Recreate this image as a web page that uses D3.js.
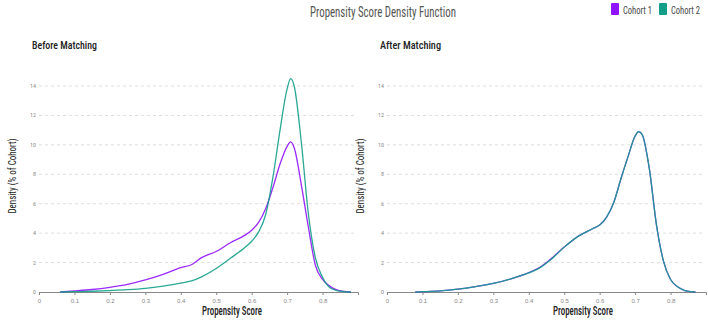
<!DOCTYPE html>
<html>
<head>
<meta charset="utf-8">
<script src="https://cdn.jsdelivr.net/npm/d3@7"></script>
<style>
  body { margin: 0; background: #fff; }
  svg { font-family: "Roboto Condensed", "Liberation Sans Narrow", "DejaVu Sans Condensed", Roboto, sans-serif; }
  .tick text { fill: #888; font-size: 6px; }
  .grid line { stroke: #ddd; stroke-dasharray: 3,3; }
</style>
</head>
<body>
<svg id="chart" width="708" height="320"></svg>
<script>
var cohorts = ["Cohort 1", "Cohort 2"];
var colors = ["#9013fe", "#139e8a"];

// propensity score grid + density values (% of cohort)
var beforeScores = [0.06, 0.1, 0.15, 0.2, 0.25, 0.3, 0.35, 0.4, 0.43, 0.46, 0.5, 0.54, 0.58, 0.6, 0.62, 0.64, 0.66, 0.68, 0.7, 0.71, 0.72, 0.74, 0.76, 0.78, 0.8, 0.82, 0.84, 0.86, 0.88];
var beforeCohort1 = [0, 0.07, 0.17, 0.32, 0.52, 0.82, 1.2, 1.65, 1.85, 2.35, 2.75, 3.35, 3.85, 4.2, 4.75, 5.7, 7.1, 8.7, 9.9, 10.2, 9.8, 7.3, 4.4, 1.8, 0.85, 0.4, 0.15, 0.04, 0];
var beforeCohort2 = [0, 0.02, 0.05, 0.1, 0.16, 0.25, 0.4, 0.6, 0.75, 1.05, 1.6, 2.3, 3.0, 3.45, 4.1, 5.3, 7.8, 11.0, 13.8, 14.5, 14.0, 10.2, 5.3, 2.3, 1.0, 0.3, 0.1, 0.03, 0];

var afterScores = [0.08, 0.1, 0.15, 0.2, 0.25, 0.3, 0.35, 0.4, 0.43, 0.46, 0.5, 0.54, 0.58, 0.6, 0.62, 0.64, 0.66, 0.68, 0.7, 0.71, 0.72, 0.74, 0.76, 0.78, 0.8, 0.82, 0.84, 0.86, 0.87];
var afterCohort1 = [0, 0.02, 0.08, 0.2, 0.37, 0.58, 0.9, 1.32, 1.66, 2.2, 3.05, 3.8, 4.3, 4.55, 5.1, 6.1, 7.7, 9.2, 10.6, 10.9, 10.7, 8.4, 4.6, 2.1, 0.85, 0.35, 0.1, 0.02, 0];
var afterCohort2 = [0, 0.02, 0.08, 0.2, 0.37, 0.58, 0.9, 1.3, 1.62, 2.15, 3.05, 3.8, 4.3, 4.55, 5.1, 6.1, 7.7, 9.2, 10.6, 10.9, 10.7, 8.4, 4.6, 2.1, 0.85, 0.35, 0.1, 0.02, 0];

var xTicks = [0, 0.1, 0.2, 0.3, 0.4, 0.5, 0.6, 0.7, 0.8];
var yTicks = [0, 2, 4, 6, 8, 10, 12, 14];

const svg = d3.select("#chart");

// title
svg.append("text")
    .attr("x", 383).attr("y", 17)
    .attr("text-anchor", "middle")
    .attr("textLength", 146)
    .attr("lengthAdjust", "spacingAndGlyphs")
    .style("font-size", "15px")
    .style("fill", "#555")
    .text("Propensity Score Density Function");

// legend
var legendX = [611, 659];
cohorts.forEach(function (c, i) {
    svg.append("rect")
        .attr("x", legendX[i]).attr("y", 3)
        .attr("width", 8).attr("height", 12)
        .attr("rx", 1)
        .attr("fill", colors[i]);
    svg.append("text")
        .attr("x", legendX[i] + 12).attr("y", 13.5)
        .attr("textLength", 29)
        .attr("lengthAdjust", "spacingAndGlyphs")
        .style("font-size", "10.5px")
        .style("fill", "#444")
        .text(c);
});

function drawPanel(left, title, titleW, scores, series, labelX, yLabelX) {
    const x = d3.scaleLinear().domain([0, 0.9]).range([left, left + 319]);
    const y = d3.scaleLinear().domain([0, 14]).range([292, 86]);
    const g = svg.append("g");

    g.append("text")
        .attr("x", left - 7).attr("y", 49)
        .attr("textLength", titleW)
        .attr("lengthAdjust", "spacingAndGlyphs")
        .style("font-size", "11.5px")
        .style("font-weight", "500")
        .style("fill", "#222")
        .text(title);

    // grid
    g.append("g")
        .attr("class", "grid")
        .selectAll("line")
        .data(yTicks.slice(1))
        .enter()
        .append("line")
        .attr("x1", left).attr("x2", left + 317)
        .attr("y1", (d) => y(d)).attr("y2", (d) => y(d));

    // y tick labels
    g.selectAll("text.ylab")
        .data(yTicks)
        .enter()
        .append("text")
        .attr("class", "ylab")
        .attr("x", left - 3)
        .attr("y", (d) => y(d) + 2)
        .attr("text-anchor", "end")
        .style("font-size", "6px")
        .style("fill", "#888")
        .text((d) => d);

    // x axis
    const ax = g.append("g")
        .attr("transform", "translate(0,292)")
        .call(d3.axisBottom(x).tickValues(xTicks).tickSize(3).tickSizeOuter(3).tickFormat((d) => d === 0 ? "0" : d3.format(".1f")(d)));
    ax.select(".domain").attr("stroke", "#888");
    ax.selectAll(".tick line").attr("stroke", "#888");
    ax.selectAll(".tick text").attr("dy", "0.9em");

    // lines
    const line = d3.line()
        .x((d) => x(d[0]))
        .y((d) => y(d[1]))
        .curve(d3.curveMonotoneX);

    series.forEach(function (vals, i) {
        g.append("path")
            .datum(scores.map((s, j) => [s, vals[j]]))
            .attr("d", line)
            .attr("fill", "none")
            .attr("stroke", colors[i])
            .attr("stroke-opacity", 0.9)
            .attr("stroke-width", 1.3);
    });

    g.append("text")
        .attr("x", labelX).attr("y", 315)
        .attr("text-anchor", "middle")
        .attr("textLength", 60)
        .attr("lengthAdjust", "spacingAndGlyphs")
        .style("font-size", "13px")
        .style("font-weight", "500")
        .style("fill", "#222")
        .text("Propensity Score");

    g.append("text")
        .attr("transform", "translate(" + yLabelX + ",176) rotate(-90)")
        .attr("text-anchor", "middle")
        .attr("textLength", 75)
        .attr("lengthAdjust", "spacingAndGlyphs")
        .style("font-size", "11.5px")
        .style("fill", "#222")
        .text("Density (% of Cohort)");
}

drawPanel(39, "Before Matching", 65, beforeScores, [beforeCohort1, beforeCohort2], 232, 16);
drawPanel(387, "After Matching", 61, afterScores, [afterCohort1, afterCohort2], 583, 364);
</script>
</body>
</html>
